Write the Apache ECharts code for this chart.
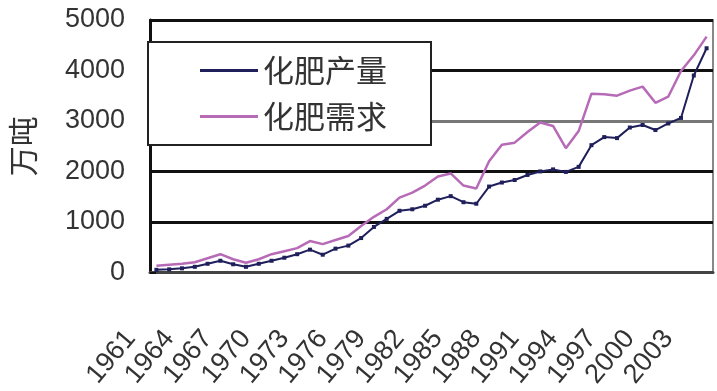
<!DOCTYPE html>
<html>
<head>
<meta charset="utf-8">
<script src="https://cdn.jsdelivr.net/npm/echarts@6/dist/echarts.min.js"></script>
<style>
    html, body { margin: 0; padding: 0; background: #fff; }
    #chart { width: 717px; height: 391px; }
</style>
</head>
<body>
<div id="chart"></div>
<script>
// years on the x axis
var years = [];
for (var y = 1961; y <= 2004; y++) years.push(String(y));

// 化肥产量 (万吨)
var production = [50, 60, 80, 110, 170, 230, 160, 110, 170, 230,
    290, 360, 450, 350, 470, 530, 680, 900, 1060, 1220,
    1250, 1320, 1440, 1510, 1390, 1360, 1700, 1780, 1830, 1930,
    2000, 2040, 1990, 2090, 2520, 2680, 2660, 2870, 2920, 2820,
    2950, 3060, 3900, 4440];

// 化肥需求 (万吨)
var demand = [130, 150, 170, 200, 280, 360, 260, 190, 260, 360,
    420, 480, 620, 560, 640, 720, 920, 1100, 1250, 1480,
    1580, 1720, 1900, 1960, 1720, 1660, 2200, 2530, 2570, 2780,
    2970, 2900, 2460, 2800, 3540, 3530, 3500, 3600, 3680, 3360,
    3480, 3990, 4300, 4670];

var yTicks = { min: 0, max: 5000, interval: 1000 };

var chart = echarts.init(document.getElementById('chart'));

function option() {
    return {
        animation: false,
        backgroundColor: '#fff',
        grid: {
            left: 143, right: 4, top: 20, bottom: 116,
            show: true, borderColor: '#888', borderWidth: 2
        },
        legend: {
            orient: 'vertical',
            left: 148, top: 42,
            padding: [13, 44, 13, 52],
            icon: 'rect',
            itemWidth: 58, itemHeight: 3, itemGap: 15,
            backgroundColor: '#fff',
            borderColor: '#222', borderWidth: 2,
            textStyle: { fontFamily: 'Noto Sans CJK SC', fontSize: 31, color: '#333' },
            data: ['化肥产量', '化肥需求']
        },
        xAxis: {
            type: 'category',
            data: years,
            boundaryGap: true,
            axisLine: { lineStyle: { color: '#444', width: 3 } },
            axisTick: { inside: true, length: 7, interval: 0, lineStyle: { color: '#111', width: 2 } },
            axisLabel: {
                interval: 2, rotate: 50, margin: 31,
                padding: [0, 40, 0, 0],
                fontFamily: 'Liberation Sans', fontSize: 27, color: '#333'
            },
            splitLine: { show: false }
        },
        yAxis: {
            type: 'value',
            min: yTicks.min, max: yTicks.max, interval: yTicks.interval,
            name: '万吨', nameLocation: 'middle', nameRotate: 90, nameGap: 112,
            nameTextStyle: { fontFamily: 'Noto Sans CJK SC', fontSize: 30, color: '#333' },
            axisLine: { show: true, lineStyle: { color: '#111', width: 3 } },
            axisTick: { show: true, inside: true, length: 6, lineStyle: { color: '#111', width: 2 } },
            axisLabel: {
                margin: 25, fontFamily: 'Liberation Sans', fontSize: 27, color: '#333',
                formatter: function (v) { return String(v); }
            },
            splitLine: {
                lineStyle: { color: ['#555', '#111', '#111', '#777', '#111', '#111'], width: 3 }
            }
        },
        series: [
            {
                name: '化肥产量', type: 'line', data: production,
                symbol: 'rect', symbolSize: [4, 4],
                itemStyle: { color: '#1f1f5c' },
                lineStyle: { color: '#1f1f5c', width: 2 }
            },
            {
                name: '化肥需求', type: 'line', data: demand,
                symbol: 'none',
                itemStyle: { color: '#b76bb7' },
                lineStyle: { color: '#b76bb7', width: 2.5 }
            }
        ]
    };
}

chart.setOption(option());
</script>
</body>
</html>
